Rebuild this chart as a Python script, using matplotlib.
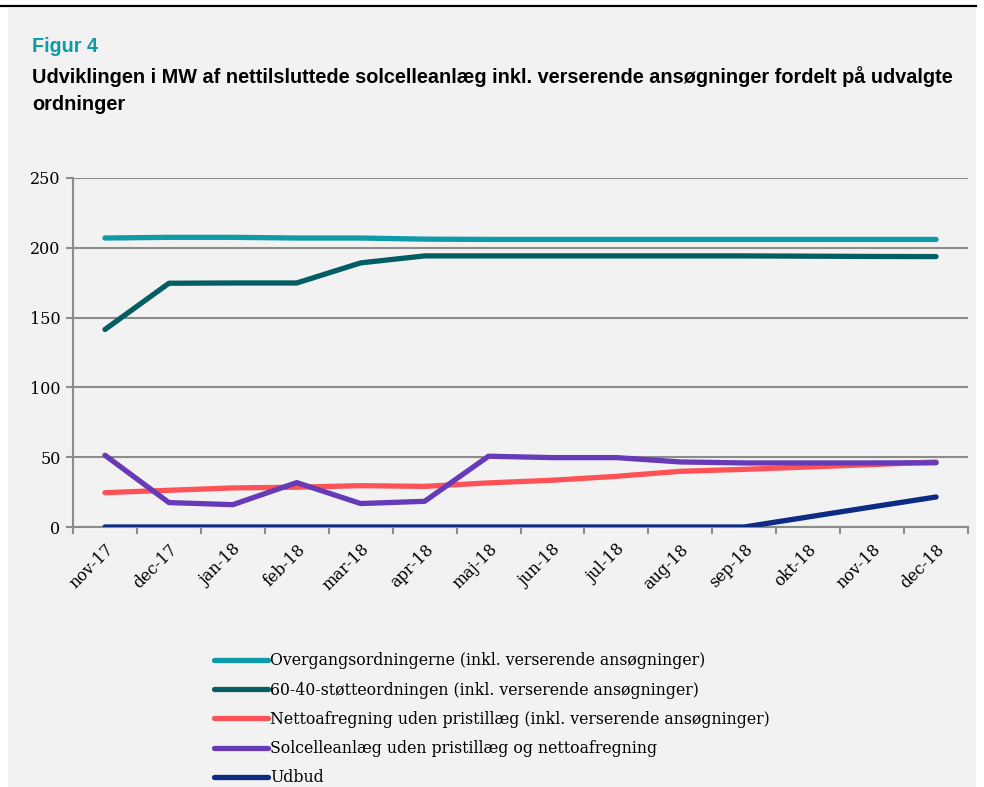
import matplotlib
matplotlib.use("Agg")
import matplotlib.pyplot as plt
from matplotlib.patches import Rectangle
from matplotlib.lines import Line2D

months = ["nov-17", "dec-17", "jan-18", "feb-18", "mar-18", "apr-18", "maj-18",
          "jun-18", "jul-18", "aug-18", "sep-18", "okt-18", "nov-18", "dec-18"]

overgang = [207, 207.5, 207.5, 207, 207, 206.2, 206, 206, 206, 206, 206, 206, 206, 206]
stoette_6040 = [141.5, 174.6, 174.8, 174.8, 189.2, 194.2, 194.2, 194.2, 194.2, 194.2, 194.2, 194, 193.8, 193.7]
netto = [24.6, 26.3, 28, 28.5, 29.6, 29.1, 31.6, 33.5, 36.3, 39.9, 41.3, 43, 44.7, 46.6]
solcelle = [51.4, 17.5, 16, 31.8, 16.8, 18.4, 50.7, 49.7, 49.7, 46.6, 45.9, 45.9, 45.9, 46]
udbud = [0, 0, 0, 0, 0, 0, 0, 0, 0, 0, 0, 7.2, 14.4, 21.5]

series_labels = [
    "Overgangsordningerne (inkl. verserende ansøgninger)",
    "60-40-støtteordningen (inkl. verserende ansøgninger)",
    "Nettoafregning uden pristillæg (inkl. verserende ansøgninger)",
    "Solcelleanlæg uden pristillæg og nettoafregning",
    "Udbud",
]
colors = ["#0E9AA7", "#035E63", "#FF5257", "#673AB7", "#0B2B85"]
yticks = [0, 50, 100, 150, 200, 250]

W, H = 984, 787
fig = plt.figure(figsize=(W / 100, H / 100), dpi=100)
fig.patch.set_facecolor("white")
# gray panel and top rule
fig.add_artist(Rectangle((8 / W, 0), (976 - 8) / W, 1 - 8 / H,
                         transform=fig.transFigure, facecolor="#F2F2F2",
                         edgecolor="none", zorder=0))
fig.add_artist(Line2D([0, 976 / W], [1 - 6 / H, 1 - 6 / H],
                      transform=fig.transFigure, color="black", lw=1.6))

fig.text(32 / W, 1 - 47 / H, "Figur 4", color="#0E9AA7", fontsize=14.2,
         fontweight="bold", family="Liberation Sans", va="center", ha="left")
fig.text(32 / W, 1 - 77 / H,
         "Udviklingen i MW af nettilsluttede solcelleanlæg inkl. verserende ansøgninger fordelt på udvalgte",
         color="black", fontsize=14.3, fontweight="bold", family="Liberation Sans",
         va="center", ha="left")
fig.text(32 / W, 1 - 104 / H, "ordninger", color="black", fontsize=14.3,
         fontweight="bold", family="Liberation Sans", va="center", ha="left")

ax = fig.add_axes([73 / W, 1 - 527 / H, (968 - 73) / W, (527 - 178) / H])
ax.set_facecolor("none")
x = list(range(len(months)))
data = [overgang, stoette_6040, netto, solcelle, udbud]
for vals, c, lab in zip(data, colors, series_labels):
    ax.plot(x, vals, color=c, lw=3.8, solid_capstyle="round",
            solid_joinstyle="round", label=lab, zorder=3)

ax.set_ylim(0, 250)
ax.set_xlim(-0.5, len(months) - 0.5)
ax.set_yticks(yticks)
ax.set_yticklabels([str(v) for v in yticks], family="DejaVu Serif", fontsize=11.5)
ax.yaxis.grid(True, color="#8C8C8C", lw=1.5, zorder=1)
ax.set_axisbelow(True)
for s in ["top", "right"]:
    ax.spines[s].set_visible(False)
for s in ["left", "bottom"]:
    ax.spines[s].set_color("#8C8C8C")
    ax.spines[s].set_linewidth(1.5)
ax.tick_params(axis="y", length=5, width=1.5, color="#8C8C8C", pad=4, labelcolor="black")

# x: ticks at category boundaries, labels at category centres
ax.set_xticks([i - 0.5 for i in range(len(months) + 1)])
ax.set_xticklabels([])
ax.tick_params(axis="x", which="major", length=5, width=1.5, color="#8C8C8C")
ax.set_xticks(x, minor=True)
ax.set_xticklabels(months, minor=True, rotation=45, ha="right",
                   rotation_mode="anchor", family="DejaVu Serif", fontsize=11.5)
ax.tick_params(axis="x", which="minor", length=0, pad=10)

handles, labels = ax.get_legend_handles_labels()
leg = fig.legend(handles, labels, loc="upper left",
                 bbox_to_anchor=(208 / W, 1 - 646 / H),
                 frameon=False, prop={"family": "DejaVu Serif", "size": 11.3},
                 handlelength=3.4, handletextpad=0.15, labelspacing=0.78,
                 borderaxespad=0)

fig.savefig("out.png", dpi=100, facecolor=fig.get_facecolor())
